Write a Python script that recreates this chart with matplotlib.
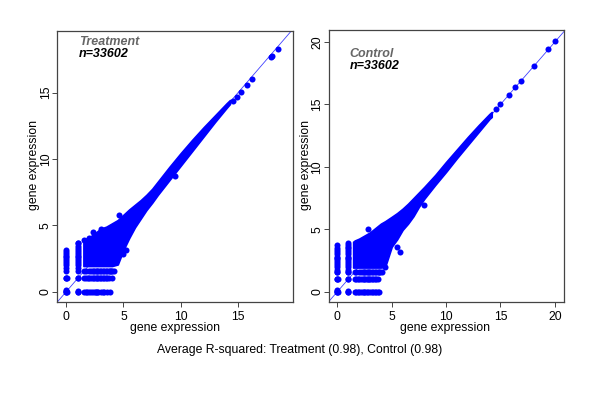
import matplotlib
matplotlib.use("Agg")
import matplotlib.pyplot as plt

plt.rcParams['font.family'] = ['Liberation Sans', 'DejaVu Sans']

# Treatment
t_col_x0 = [0, 0.05, 0.1, 1, 1.58, 1.75, 2, 2.17, 2.32, 2.45, 2.58, 2.7, 2.81, 3, 3.17]
t_col_x1 = [0, 0.05, 1, 1.58, 1.75, 2, 2.17, 2.32, 2.45, 2.58, 2.7, 2.81, 3, 3.17, 3.32, 3.46, 3.7]
t_row_y0 = [0, 0.07, 1, 1.58, 1.7, 1.85, 2, 2.2, 2.32, 2.5, 2.58, 2.7, 2.81, 3, 3.17, 3.32, 3.58, 3.81]
t_row_y1 = [0, 0.07, 1, 1.58, 1.75, 1.9, 2, 2.17, 2.32, 2.45, 2.58, 2.7, 2.81, 2.91, 3, 3.17, 3.32, 3.46, 3.58, 3.7, 4]
t_row_y158 = [1.58, 1.75, 2, 2.17, 2.32, 2.45, 2.58, 2.7, 2.81, 2.91, 3, 3.17, 3.32, 3.46, 3.58, 3.7, 3.81, 3.91, 4, 4.2]
t_cloud_x = [1.5, 1.6, 2, 2.5, 3, 3.5, 4, 4.5, 5, 5.5, 6, 6.5, 7, 7.5, 8, 9, 10, 11, 12, 13, 14, 14.3]
t_cloud_lo = [1.93, 1.93, 1.93, 1.93, 1.93, 1.93, 1.93, 2.05, 3.15, 4.05, 4.85, 5.5, 6.15, 6.7, 7.3, 8.4, 9.5, 10.6, 11.7, 12.8, 13.85, 14.15]
t_cloud_hi = [3.9, 3.95, 4.1, 4.4, 4.75, 4.9, 5.15, 5.4, 5.8, 6.2, 6.55, 6.9, 7.3, 7.75, 8.3, 9.4, 10.45, 11.45, 12.4, 13.3, 14.2, 14.45]
t_out_x = [1, 1.58, 2, 2.35, 3, 4.6, 5.2, 5.0, 9.5, 14.55, 14.94, 15.26, 15.78, 16.25, 17.9, 18.0, 18.5]
t_out_y = [3.7, 3.9, 4.05, 4.5, 4.75, 5.8, 3.15, 2.85, 8.7, 14.35, 14.7, 15.05, 15.55, 16.03, 17.7, 17.8, 18.3]

# Control
c_col_x0 = [0, 0.05, 0.1, 1, 1.58, 1.75, 2, 2.17, 2.32, 2.45, 2.58, 2.7, 2.81, 3, 3.17, 3.32, 3.46, 3.75]
c_col_x1 = [0, 0.05, 1, 1.58, 1.75, 2, 2.17, 2.32, 2.45, 2.58, 2.7, 2.81, 3, 3.17, 3.32, 3.46, 3.58, 3.7, 3.9]
c_row_y0 = [0, 0.07, 1, 1.58, 1.75, 1.9, 2, 2.17, 2.32, 2.45, 2.58, 2.7, 2.81, 3, 3.17, 3.32, 3.46, 3.58, 3.7, 3.81]
c_row_y1 = [0, 0.07, 1, 1.58, 1.75, 1.9, 2, 2.17, 2.32, 2.45, 2.58, 2.7, 2.81, 2.91, 3, 3.17, 3.32, 3.46, 3.58, 3.7]
c_row_y158 = [0, 1, 1.58, 1.75, 2, 2.17, 2.32, 2.45, 2.58, 2.7, 2.81, 2.91, 3, 3.17, 3.32, 3.46, 3.58, 3.7, 3.81, 3.91, 4.09]
c_cloud_x = [1.45, 1.6, 2, 2.5, 3, 3.5, 4, 4.4, 5, 5.5, 6, 6.5, 7, 7.5, 8, 9, 10, 11, 12, 13, 14, 14.2]
c_cloud_lo = [1.93, 1.93, 1.93, 1.93, 1.93, 1.93, 1.93, 2.0, 3.6, 4.2, 4.95, 5.45, 6.05, 6.8, 7.45, 8.55, 9.6, 10.7, 11.75, 12.8, 13.85, 14.0]
c_cloud_hi = [4.0, 4.1, 4.25, 4.5, 4.75, 5.1, 5.45, 5.65, 6.0, 6.3, 6.65, 7.05, 7.5, 7.95, 8.4, 9.35, 10.4, 11.4, 12.4, 13.35, 14.25, 14.4]
c_out_x = [2.8, 5.45, 5.75, 4.4, 8.0, 14.6, 14.97, 15.8, 16.38, 16.87, 18.1, 19.4, 20.03]
c_out_y = [5.0, 3.6, 3.2, 2.0, 6.95, 14.6, 15.04, 15.8, 16.4, 16.88, 18.1, 19.45, 20.09]

W, H = 600, 400
BLUE = '#0000ff'
MS = 19


def panel(rect, xlim, ylim, ticks, name, name_y, n_y, name_x,
          col_x0, col_x1, row_y0, row_y1, row_y158, cx, clo, chi, ox, oy):
    left, right, top, bottom = rect
    ax = fig.add_axes([left / W, 1 - bottom / H, (right - left) / W, (bottom - top) / H])
    ax.set_xlim(*xlim)
    ax.set_ylim(*ylim)

    ax.plot([-5, 25], [-5, 25], color=BLUE, lw=0.6, alpha=0.75, zorder=1)
    ax.fill_between(cx, clo, chi, color=BLUE, lw=1.2, zorder=2)
    ax.scatter([0] * len(col_x0), col_x0, s=MS, color=BLUE, lw=0, zorder=3)
    ax.scatter([1] * len(col_x1), col_x1, s=MS, color=BLUE, lw=0, zorder=3)
    ax.scatter(row_y0, [0] * len(row_y0), s=MS, color=BLUE, lw=0, zorder=3)
    ax.scatter(row_y1, [1] * len(row_y1), s=MS, color=BLUE, lw=0, zorder=3)
    ax.scatter(row_y158, [1.58] * len(row_y158), s=MS, color=BLUE, lw=0, zorder=3)
    ax.scatter(ox, oy, s=MS, color=BLUE, lw=0, zorder=3)

    ax.set_xticks(ticks)
    ax.set_yticks(ticks)
    ax.tick_params(axis='both', length=3.5, width=0.7, color='#444444', labelsize=8.8)
    ax.tick_params(axis='x', pad=3)
    ax.tick_params(axis='y', pad=0.5, labelrotation=90)
    for lab in ax.get_yticklabels():
        lab.set_va('center')
    for s in ax.spines.values():
        s.set_linewidth(0.9)
        s.set_color('#444444')

    ax.text(name_x, name_y, name, color='#666666', fontsize=9, fontweight='bold', style='italic', va='center')
    ax.text(name_x, n_y, 'n=33602', color='black', fontsize=9, fontweight='bold', style='italic', va='center')
    return ax


fig = plt.figure(figsize=(6, 4), dpi=100)

panel((57.3, 293, 31, 302), (-0.78, 19.8), (-0.78, 19.65), [0, 5, 10, 15],
      'Treatment', 18.85, 17.95, 1.1,
      t_col_x0, t_col_x1, t_row_y0, t_row_y1, t_row_y158,
      t_cloud_x, t_cloud_lo, t_cloud_hi, t_out_x, t_out_y)

panel((328.7, 564, 30, 302), (-0.8, 20.85), (-0.83, 20.97), [0, 5, 10, 15, 20],
      'Control', 19.05, 18.05, 1.1,
      c_col_x0, c_col_x1, c_row_y0, c_row_y1, c_row_y158,
      c_cloud_x, c_cloud_lo, c_cloud_hi, c_out_x, c_out_y)

# labels sit in figure pixels, like R's mtext
fig.text(175 / W, 1 - 327.5 / H, 'gene expression', fontsize=8.8, ha='center', va='center')
fig.text(445 / W, 1 - 327.5 / H, 'gene expression', fontsize=8.8, ha='center', va='center')
fig.text(34 / W, 1 - 165 / H, 'gene expression', fontsize=8.8, rotation=90, ha='center', va='center')
fig.text(306 / W, 1 - 165 / H, 'gene expression', fontsize=8.8, rotation=90, ha='center', va='center')
fig.text(300 / W, 1 - 350.5 / H, 'Average R-squared: Treatment (0.98), Control (0.98)', fontsize=8.8, ha='center', va='center')

fig.savefig('out.png', dpi=100)
